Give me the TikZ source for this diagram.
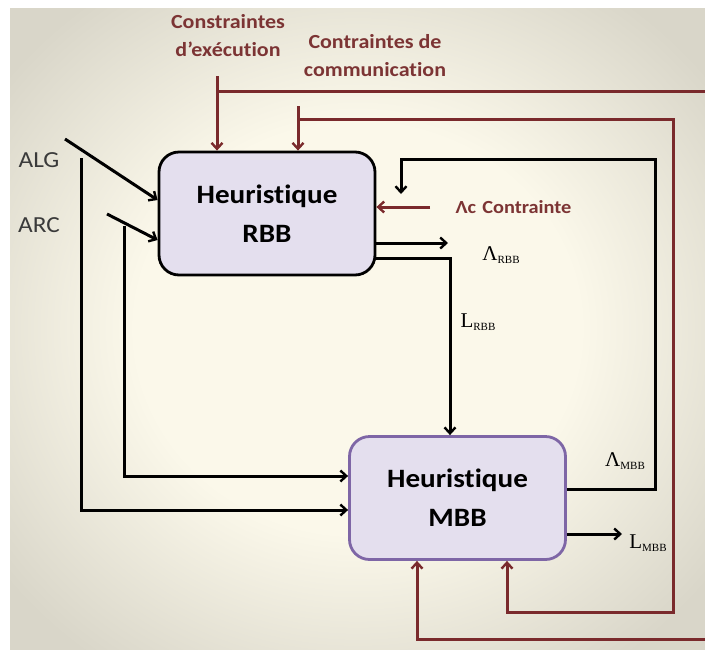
\documentclass[tikz,border=0pt]{standalone}
\usepackage{fontspec}
\setmainfont{Carlito}[FakeStretch=1.1, Ligatures={NoCommon,NoContextual}, Contextuals=NoAlternate]
\newfontfamily\symfont{Liberation Serif}
\usetikzlibrary{arrows.meta}

\definecolor{cream}{HTML}{FBF8EA}
\definecolor{edgegray}{HTML}{D9D6C9}
\definecolor{wine}{HTML}{7A2A2C}
\definecolor{winetext}{HTML}{7C3434}
\definecolor{boxfill}{HTML}{E4DFEE}
\definecolor{mbbline}{HTML}{7E66A6}
\definecolor{inktext}{HTML}{3A3A3A}

\pgfdeclareradialshading{vignette}{\pgfpoint{0bp}{0bp}}{%
  color(0bp)=(cream); color(16bp)=(cream); color(32bp)=(edgegray); color(50bp)=(edgegray)}

\tikzset{
  tip/.tip={Straight Barb[length=6pt,width=11pt,line width=2.4pt]},
  blk/.style={line width=3pt, draw=black},
  cst/.style={line width=3pt, draw=wine},
  heur/.style={rounded corners=20pt, fill=boxfill, line width=2.8pt,
    minimum width=216pt, minimum height=123pt, inner sep=0pt, align=center,
    font=\fontsize{26.5}{39}\selectfont\bfseries},
  redlbl/.style={text=winetext, align=center, font=\fontsize{20}{28}\selectfont\bfseries},
  inlbl/.style={text=inktext, font=\fontsize{23}{26}\selectfont},
  symlbl/.style={text=black, inner sep=0pt}
}
\newcommand{\sym}[2]{{\symfont\fontsize{21}{22}\selectfont #1\raisebox{-3.5pt}{\fontsize{11}{11}\selectfont #2}}}

\begin{document}
\begin{tikzpicture}[x=1pt,y=-1pt]
\useasboundingbox (0,0) rectangle (705,649);
\fill[white] (0,0) rectangle (705,649);
\shade[shading=vignette] (10,8) rectangle (705,649);

% the two heuristics
\node[heur, draw=black] (rbb) at (267,213.5) {Heuristique\\RBB};
\node[heur, draw=mbbline] (mbb) at (457.5,498) {Heuristique\\MBB};

% inputs
\node[inlbl] (alg) at (39,160) {ALG};
\node[inlbl] (arc) at (39,225) {ARC};
\node[redlbl] (exec) at (228,36) {Constraintes\\d’exécution};
\node[redlbl] (comm) at (375,56) {Contraintes de\\communication};
\node[text=winetext, font=\fontsize{18.5}{20}\selectfont\bfseries, anchor=west] (lc) at (452,207) {Λc\,\,Contrainte};

% outputs
\node[symlbl] (lrbb) at (501,255) {\sym{Λ}{RBB}};
\node[symlbl] (Lrbb) at (478,322) {\sym{L}{RBB}};
\node[symlbl] (lmbb) at (625,461) {\sym{Λ}{MBB}};
\node[symlbl] (Lmbb) at (648,543) {\sym{L}{MBB}};

% free ends of connectors
\coordinate (algA) at (65,139);
\coordinate (algV) at (81,158);
\coordinate (arcA) at (107,214);
\coordinate (arcV) at (124,226);
\coordinate (lrbbEnd) at (448,243);
\coordinate (fbTop) at (655,159);
\coordinate (fbEnd) at (401,194);
\coordinate (LmbbEnd) at (622,534);
\coordinate (lcStart) at (430,207);
\coordinate (execTop) at (217,76);
\coordinate (execBar) at (217,91);
\coordinate (execFar) at (712,639);
\coordinate (commTop) at (298,106);
\coordinate (commBar) at (298,119);
\coordinate (commFar) at (673,612);

% black data flows
\draw[blk, -tip] (algA) -- (rbb.west |- 0,200);
\draw[blk, -tip] (arcA) -- (rbb.west |- 0,240);
\draw[blk, -tip] (algV) |- (mbb.west |- 0,510);
\draw[blk, -tip] (arcV) |- (mbb.west |- 0,476);
\draw[blk, -tip] (rbb.east |- 0,243) -- (lrbbEnd);
\draw[blk, -tip] (rbb.east |- 0,258) -| (mbb.north -| 450,0);
\draw[blk, -tip] (mbb.east |- 0,489) -| (fbTop) -| (fbEnd);
\draw[blk, -tip] (mbb.east |- 0,534) -- (LmbbEnd);

% constraint flows
\draw[cst, -tip] (lcStart) -- (rbb.east |- lcStart);
\draw[cst, -tip] (execTop) -- (rbb.north -| execTop);
\draw[cst, -tip] (commTop) -- (rbb.north -| commTop);
\begin{scope}
\clip (0,0) rectangle (705,649);
\draw[cst, -tip] (execBar) -| (execFar) -| (mbb.south -| 417,0);
\draw[cst, -tip] (commBar) -| (commFar) -| (mbb.south -| 507,0);
\end{scope}
\end{tikzpicture}
\end{document}
